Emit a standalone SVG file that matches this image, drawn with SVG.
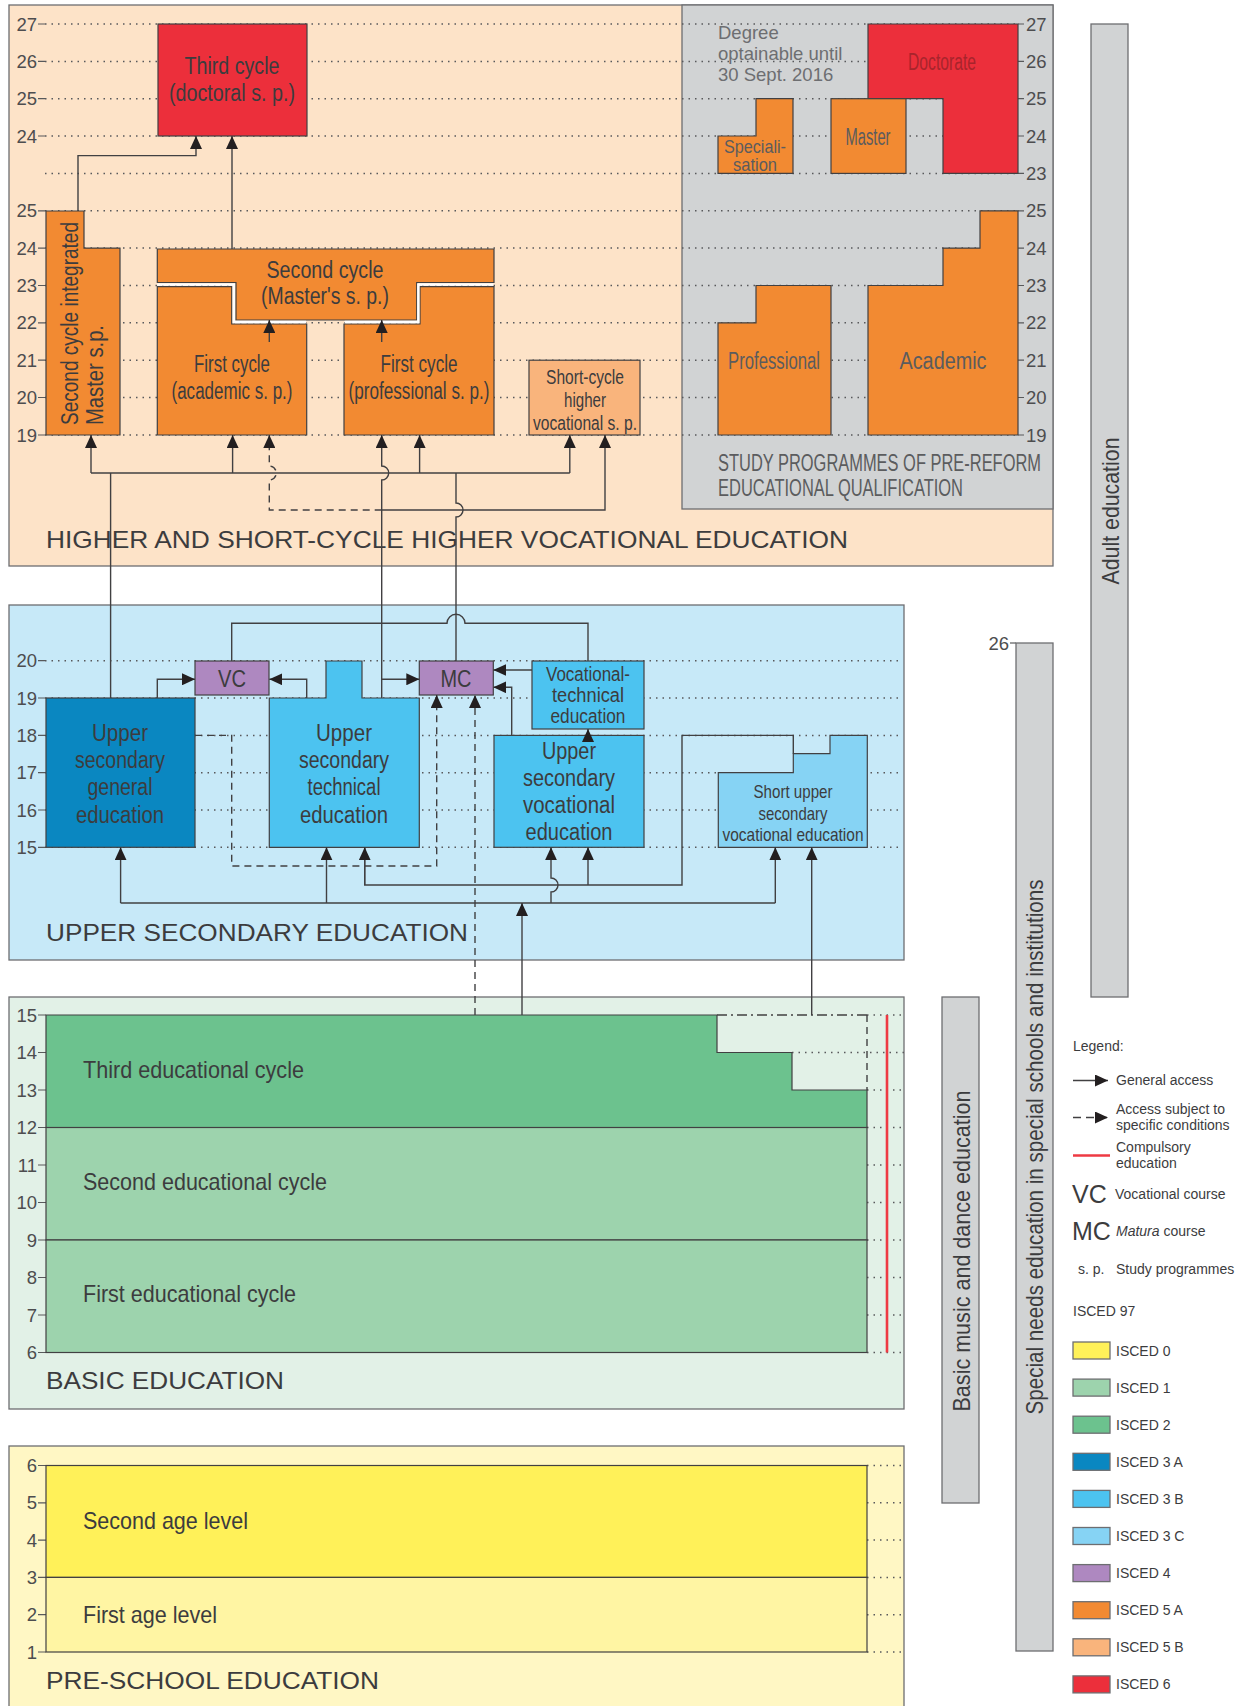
<svg xmlns="http://www.w3.org/2000/svg" width="1248" height="1706" viewBox="0 0 1248 1706">
<style>
.pl{stroke:#6d6e71;stroke-width:1.3}
.bx{stroke:#414042;stroke-width:1.2}
.c{fill:none;stroke:#414042;stroke-width:1.4}
.d{stroke-dasharray:7 5}
.dot{fill:none;stroke:#58595b;stroke-width:1.5;stroke-dasharray:1.5 5}
.t{font-family:"Liberation Sans Narrow","Liberation Sans",Arial,sans-serif;fill:#3c3c3e;font-size:23px}
.tm{text-anchor:middle}
.s19{font-size:20px}
.s18{font-size:19px}
.s24{font-size:24px}
.g{fill:#5b5c5e}
.n{font-family:"Liberation Sans",Arial,sans-serif;font-size:18.5px;fill:#4d4d4f}
.ne{text-anchor:end}
.ti{font-family:"Liberation Sans",Arial,sans-serif;font-size:24px;fill:#3c3c3e}
.lg{font-family:"Liberation Sans",Arial,sans-serif;font-size:14px;fill:#3c3c3e}
.big{font-size:25px}
.tk{stroke:#58595b;stroke-width:1.2}
</style>
<defs>
<marker id="ah" markerUnits="userSpaceOnUse" markerWidth="14" markerHeight="12" viewBox="0 0 14 12" refX="13" refY="6" orient="auto"><path d="M0,0 L13,6 L0,12 z" fill="#231f20"/></marker>
</defs>
<rect width="1248" height="1706" fill="#ffffff"/>

<!-- Panels -->
<g id="panel-higher">
<rect x="9" y="5" width="1044" height="561" fill="#fde3c8" class="pl"/>
<rect x="682" y="5" width="371" height="504" fill="#d1d3d4" class="pl"/>
</g>
<g id="panel-upper"><rect x="9" y="605" width="895" height="355" fill="#c7e9f8" class="pl"/></g>
<g id="panel-basic"><rect x="9" y="997" width="895" height="412" fill="#e2f1e7" class="pl"/></g>
<g id="panel-preschool"><rect x="9" y="1446" width="895" height="270" fill="#fff7c4" class="pl"/></g>

<!-- dotted grid -->
<g id="grid" class="dot">
<path d="M45,24H1017M45,61.4H1017M45,98.7H1017M45,136H1017M45,173.4H1017M45,210.8H1017M45,248.1H1017M45,285.5H1017M45,322.8H1017M45,360.2H1017M45,397.5H1017M45,435H1017"/>
<path d="M45,660.7H901M45,698H901M45,735.4H901M45,772.7H901M45,810H901M45,847.3H901"/>
<path d="M867,1015H904M792,1052.5H904M867,1090H904M867,1127.5H904M867,1165H904M867,1202.5H904M867,1240H904M867,1277.5H904M867,1315H904M867,1352.5H904"/>
<path d="M867,1465.5H904M867,1502.8H904M867,1540.1H904M867,1577.4H904M867,1614.7H904M867,1652H904"/>
</g>

<!-- axis numbers -->
<g id="axes">
<g class="tk">
<path d="M38,24H45M38,61.4H45M38,98.7H45M38,136H45M38,210.8H45M38,248.1H45M38,285.5H45M38,322.8H45M38,360.2H45M38,397.5H45M38,435H45"/>
<path d="M1018,24H1024M1018,61.4H1024M1018,98.7H1024M1018,136H1024M1018,173.4H1024M1018,210.8H1024M1018,248.1H1024M1018,285.5H1024M1018,322.8H1024M1018,360.2H1024M1018,397.5H1024M1018,435H1024"/>
<path d="M38,660.7H45M38,698H45M38,735.4H45M38,772.7H45M38,810H45M38,847.3H45"/>
<path d="M38,1015H46M38,1052.5H46M38,1090H46M38,1127.5H46M38,1165H46M38,1202.5H46M38,1240H46M38,1277.5H46M38,1315H46M38,1352.5H46"/>
<path d="M38,1465.5H46M38,1502.8H46M38,1540.1H46M38,1577.4H46M38,1614.7H46M38,1652H46"/>
<path d="M1010,643H1016"/>
</g>
<g class="n ne">
<text x="37" y="30.5">27</text><text x="37" y="67.9">26</text><text x="37" y="105.2">25</text><text x="37" y="142.5">24</text>
<text x="37" y="217.3">25</text><text x="37" y="254.6">24</text><text x="37" y="292">23</text><text x="37" y="329.3">22</text><text x="37" y="366.7">21</text><text x="37" y="404">20</text><text x="37" y="441.5">19</text>
<text x="37" y="667.2">20</text><text x="37" y="704.5">19</text><text x="37" y="741.9">18</text><text x="37" y="779.2">17</text><text x="37" y="816.5">16</text><text x="37" y="853.8">15</text>
<text x="37" y="1021.5">15</text><text x="37" y="1059">14</text><text x="37" y="1096.5">13</text><text x="37" y="1134">12</text><text x="37" y="1171.5">11</text><text x="37" y="1209">10</text><text x="37" y="1246.5">9</text><text x="37" y="1284">8</text><text x="37" y="1321.5">7</text><text x="37" y="1359">6</text>
<text x="37" y="1472">6</text><text x="37" y="1509.3">5</text><text x="37" y="1546.6">4</text><text x="37" y="1583.9">3</text><text x="37" y="1621.2">2</text><text x="37" y="1658.5">1</text>
<text x="1009" y="649.5">26</text>
</g>
<g class="n">
<text x="1026" y="30.5">27</text><text x="1026" y="67.9">26</text><text x="1026" y="105.2">25</text><text x="1026" y="142.5">24</text><text x="1026" y="179.9">23</text>
<text x="1026" y="217.3">25</text><text x="1026" y="254.6">24</text><text x="1026" y="292">23</text><text x="1026" y="329.3">22</text><text x="1026" y="366.7">21</text><text x="1026" y="404">20</text><text x="1026" y="441.5">19</text>
</g>
</g>

<!-- Higher education nodes -->
<g id="third-cycle"><rect x="158" y="24" width="149" height="112" fill="#ec2f3b" class="bx"/>
<text class="t tm" x="232" y="74" textLength="95" lengthAdjust="spacingAndGlyphs">Third cycle</text>
<text class="t tm" x="232" y="101" textLength="126" lengthAdjust="spacingAndGlyphs">(doctoral s. p.)</text></g>
<g id="integrated-master"><polygon points="46,211 84,211 84,248.1 120,248.1 120,435 46,435" fill="#f28a32" class="bx"/>
<text class="t" transform="translate(78,425) rotate(-90)" textLength="203" lengthAdjust="spacingAndGlyphs">Second cycle integrated</text>
<text class="t" transform="translate(103,425) rotate(-90)" textLength="100" lengthAdjust="spacingAndGlyphs">Master s.p.</text></g>
<g id="first-academic"><polygon points="157.3,286.7 231.7,286.7 231.7,324 306.7,324 306.7,435 157.3,435" fill="#f28a32" class="bx"/>
<text class="t tm" x="232" y="372" textLength="76" lengthAdjust="spacingAndGlyphs">First cycle</text>
<text class="t tm" x="232" y="399" textLength="121" lengthAdjust="spacingAndGlyphs">(academic s. p.)</text></g>
<g id="first-professional"><polygon points="344,324 420,324 420,286.7 494,286.7 494,435 344,435" fill="#f28a32" class="bx"/>
<text class="t tm" x="419" y="372" textLength="77" lengthAdjust="spacingAndGlyphs">First cycle</text>
<text class="t tm" x="419" y="399" textLength="141" lengthAdjust="spacingAndGlyphs">(professional s. p.)</text></g>
<g id="second-cycle"><polygon points="157.3,249 494,249 494,282.5 416.7,282.5 416.7,320 236,320 236,282.5 157.3,282.5" fill="#f28a32" class="bx"/>
<path d="M157.3,284.6H233.85V322H306.1M344.6,322H418.35V284.6H493.4" fill="none" stroke="#ffffff" stroke-width="2.4"/>
<text class="t tm" x="325" y="278" textLength="117" lengthAdjust="spacingAndGlyphs">Second cycle</text>
<text class="t tm" x="325" y="304" textLength="128" lengthAdjust="spacingAndGlyphs">(Master's s. p.)</text></g>
<g id="short-cycle"><rect x="529" y="360.2" width="111" height="74.8" fill="#f9b47c" class="bx"/>
<text class="t tm s19" x="585" y="384" textLength="78" lengthAdjust="spacingAndGlyphs">Short-cycle</text>
<text class="t tm s19" x="585" y="407" textLength="42" lengthAdjust="spacingAndGlyphs">higher</text>
<text class="t tm s19" x="585" y="430" textLength="104" lengthAdjust="spacingAndGlyphs">vocational s. p.</text></g>

<!-- Pre-reform programmes -->
<g id="pre-reform-label">
<text x="718" y="38.5" font-family="Liberation Sans, Arial, sans-serif" font-size="18.5" fill="#6d6e71">Degree</text>
<text x="718" y="59.5" font-family="Liberation Sans, Arial, sans-serif" font-size="18.5" fill="#6d6e71">optainable until</text>
<text x="718" y="80.5" font-family="Liberation Sans, Arial, sans-serif" font-size="18.5" fill="#6d6e71">30 Sept. 2016</text>
<text class="t g" x="718" y="471" textLength="323" lengthAdjust="spacingAndGlyphs">STUDY PROGRAMMES OF PRE-REFORM</text>
<text class="t g" x="718" y="496" textLength="245" lengthAdjust="spacingAndGlyphs">EDUCATIONAL QUALIFICATION</text>
</g>
<g id="doctorate"><polygon points="868,24 1018,24 1018,173.4 943,173.4 943,98.7 868,98.7" fill="#ec2f3b" class="bx"/>
<text class="t tm" x="942" y="70" style="fill:#a8242c" textLength="68" lengthAdjust="spacingAndGlyphs">Doctorate</text></g>
<g id="specialisation"><polygon points="718,136 756,136 756,98.7 793,98.7 793,173.4 718,173.4" fill="#f28a32" class="bx"/>
<text class="t tm g s18" x="755" y="153" textLength="62" lengthAdjust="spacingAndGlyphs">Speciali-</text>
<text class="t tm g s18" x="755" y="171" textLength="44" lengthAdjust="spacingAndGlyphs">sation</text></g>
<g id="master"><rect x="831" y="98.7" width="75" height="74.7" fill="#f28a32" class="bx"/>
<text class="t tm g" x="868" y="145" textLength="45" lengthAdjust="spacingAndGlyphs">Master</text></g>
<g id="professional"><polygon points="718,322.8 756,322.8 756,285.5 831,285.5 831,435 718,435" fill="#f28a32" class="bx"/>
<text class="t tm g" x="774" y="369" textLength="92" lengthAdjust="spacingAndGlyphs">Professional</text></g>
<g id="academic"><polygon points="868,285.5 943,285.5 943,248.1 980,248.1 980,210.8 1018,210.8 1018,435 868,435" fill="#f28a32" class="bx"/>
<text class="t tm g" x="943" y="369" textLength="87" lengthAdjust="spacingAndGlyphs">Academic</text></g>

<!-- Upper secondary nodes -->
<g id="vc"><rect x="195" y="661" width="74" height="34" fill="#ae88c0" class="bx"/>
<text class="t tm s24" x="232" y="686.5" textLength="28" lengthAdjust="spacingAndGlyphs">VC</text></g>
<g id="mc"><rect x="419.3" y="661" width="74" height="34" fill="#ae88c0" class="bx"/>
<text class="t tm s24" x="456" y="686.5" textLength="31" lengthAdjust="spacingAndGlyphs">MC</text></g>
<g id="upper-general"><rect x="46" y="698" width="149" height="149.3" fill="#0a87c1" class="bx"/>
<text class="t tm" x="120" y="741" textLength="56" lengthAdjust="spacingAndGlyphs">Upper</text>
<text class="t tm" x="120" y="768" textLength="90" lengthAdjust="spacingAndGlyphs">secondary</text>
<text class="t tm" x="120" y="795" textLength="65" lengthAdjust="spacingAndGlyphs">general</text>
<text class="t tm" x="120" y="823" textLength="88" lengthAdjust="spacingAndGlyphs">education</text></g>
<g id="upper-technical"><polygon points="269.3,698 326,698 326,661 362,661 362,698 419.3,698 419.3,847.3 269.3,847.3" fill="#4cc3f0" class="bx"/>
<text class="t tm" x="344" y="741" textLength="56" lengthAdjust="spacingAndGlyphs">Upper</text>
<text class="t tm" x="344" y="768" textLength="90" lengthAdjust="spacingAndGlyphs">secondary</text>
<text class="t tm" x="344" y="795" textLength="73" lengthAdjust="spacingAndGlyphs">technical</text>
<text class="t tm" x="344" y="823" textLength="88" lengthAdjust="spacingAndGlyphs">education</text></g>
<g id="vocational-technical"><rect x="532" y="661" width="112" height="68" fill="#4cc3f0" class="bx"/>
<text class="t tm s19" x="588" y="681" textLength="84" lengthAdjust="spacingAndGlyphs">Vocational-</text>
<text class="t tm s19" x="588" y="702" textLength="72" lengthAdjust="spacingAndGlyphs">technical</text>
<text class="t tm s19" x="588" y="723" textLength="75" lengthAdjust="spacingAndGlyphs">education</text></g>
<g id="upper-vocational"><rect x="494" y="735.4" width="150" height="111.9" fill="#4cc3f0" class="bx"/>
<text class="t tm" x="569" y="759" textLength="54" lengthAdjust="spacingAndGlyphs">Upper</text>
<text class="t tm" x="569" y="786" textLength="92" lengthAdjust="spacingAndGlyphs">secondary</text>
<text class="t tm" x="569" y="813" textLength="92" lengthAdjust="spacingAndGlyphs">vocational</text>
<text class="t tm" x="569" y="840" textLength="87" lengthAdjust="spacingAndGlyphs">education</text></g>
<g id="short-upper"><polygon points="718.3,772.7 793.3,772.7 793.3,753.7 830,753.7 830,735.4 867.3,735.4 867.3,847.3 718.3,847.3" fill="#86d3f4" class="bx"/>
<text class="t tm s18" x="793" y="798" textLength="79" lengthAdjust="spacingAndGlyphs">Short upper</text>
<text class="t tm s18" x="793" y="820" textLength="69" lengthAdjust="spacingAndGlyphs">secondary</text>
<text class="t tm s18" x="793" y="840.5" textLength="141" lengthAdjust="spacingAndGlyphs">vocational education</text></g>

<!-- Basic education -->
<g id="basic-third"><polygon points="46,1015 717,1015 717,1052.5 792,1052.5 792,1090 867,1090 867,1127.5 46,1127.5" fill="#6cc28e" class="bx"/>
<text class="t s24" x="83" y="1078" textLength="221" lengthAdjust="spacingAndGlyphs">Third educational cycle</text></g>
<g id="basic-second"><rect x="46" y="1127.5" width="821" height="112.5" fill="#9dd3ad" class="bx"/>
<text class="t s24" x="83" y="1190" textLength="244" lengthAdjust="spacingAndGlyphs">Second educational cycle</text></g>
<g id="basic-first"><rect x="46" y="1240" width="821" height="112.5" fill="#9dd3ad" class="bx"/>
<text class="t s24" x="83" y="1302" textLength="213" lengthAdjust="spacingAndGlyphs">First educational cycle</text></g>

<!-- Pre-school -->
<g id="pre-second"><rect x="46" y="1465.5" width="821" height="111.9" fill="#fff159" class="bx"/>
<text class="t s24" x="83" y="1529" textLength="165" lengthAdjust="spacingAndGlyphs">Second age level</text></g>
<g id="pre-first"><rect x="46" y="1577.4" width="821" height="74.6" fill="#fff5a3" class="bx"/>
<text class="t s24" x="83" y="1622.5" textLength="134" lengthAdjust="spacingAndGlyphs">First age level</text></g>

<!-- Panel titles -->
<g id="titles">
<text class="ti" x="46" y="548" textLength="802" lengthAdjust="spacingAndGlyphs">HIGHER AND SHORT-CYCLE HIGHER VOCATIONAL EDUCATION</text>
<text class="ti" x="46" y="940.5" textLength="422" lengthAdjust="spacingAndGlyphs">UPPER SECONDARY EDUCATION</text>
<text class="ti" x="46" y="1389" textLength="238" lengthAdjust="spacingAndGlyphs">BASIC EDUCATION</text>
<text class="ti" x="46" y="1688.5" textLength="333" lengthAdjust="spacingAndGlyphs">PRE-SCHOOL EDUCATION</text>
</g>

<!-- Side bars -->
<g id="adult-education"><rect x="1091" y="24" width="37" height="973" fill="#d1d3d4" class="pl"/>
<text class="t tm s24" transform="translate(1119,511) rotate(-90)" textLength="147" lengthAdjust="spacingAndGlyphs">Adult education</text></g>
<g id="special-needs"><rect x="1016" y="643" width="37" height="1008" fill="#d1d3d4" class="pl"/>
<text class="t tm s24" transform="translate(1043,1147) rotate(-90)" textLength="535" lengthAdjust="spacingAndGlyphs">Special needs education in special schools and institutions</text></g>
<g id="music-dance"><rect x="942" y="997" width="37" height="506" fill="#d1d3d4" class="pl"/>
<text class="t tm s24" transform="translate(970,1251) rotate(-90)" textLength="321" lengthAdjust="spacingAndGlyphs">Basic music and dance education</text></g>

<!-- Connectors -->
<g id="connectors" class="c">
<path d="M78,211V155.6H196V136" marker-end="url(#ah)"/>
<path d="M232,249V136" marker-end="url(#ah)"/>
<path d="M269.3,342V320" marker-end="url(#ah)"/>
<path d="M381.7,342V320" marker-end="url(#ah)"/>
<path d="M91,473H569.8"/>
<path d="M91,473V435" marker-end="url(#ah)"/>
<path d="M232.6,473V435" marker-end="url(#ah)"/>
<path d="M419.6,473V435" marker-end="url(#ah)"/>
<path d="M569.8,473V435" marker-end="url(#ah)"/>
<path d="M110.6,473V698"/>
<path d="M456,473V503A7,7 0 0 1 456,517V661"/>
<path d="M381.7,698V480A7,7 0 0 0 381.7,466V435" marker-end="url(#ah)"/>
<path class="d" d="M381.7,510H269.3V480A7,7 0 0 0 269.3,466V435" marker-end="url(#ah)"/>
<path d="M381.7,510H605V435" marker-end="url(#ah)"/>
<path d="M157.3,698V679.3H195" marker-end="url(#ah)"/>
<path d="M306.7,698V679.3H269.3" marker-end="url(#ah)"/>
<path d="M381.7,679.3H419.3" marker-end="url(#ah)"/>
<path d="M231.7,661V623.3H447A9,9 0 0 1 465,623.3H588V661"/>
<path d="M532,670H493.3" marker-end="url(#ah)"/>
<path d="M511.7,735.4V687.3H493.3" marker-end="url(#ah)"/>
<path d="M588,742V729" marker-end="url(#ah)"/>
<path class="d" d="M195,735.4H231.7V866H436.7V695" marker-end="url(#ah)"/>
<path class="d" d="M475,1015V695" marker-end="url(#ah)"/>
<path d="M120.6,903H775.3"/>
<path d="M120.6,903V847.3" marker-end="url(#ah)"/>
<path d="M326.5,903V847.3" marker-end="url(#ah)"/>
<path d="M551,903V892A7,7 0 0 0 551,878V847.3" marker-end="url(#ah)"/>
<path d="M775.3,903V847.3" marker-end="url(#ah)"/>
<path d="M522,1015V903" marker-end="url(#ah)"/>
<path d="M364.7,847.3V885H682V735.4H793.3V753.7"/>
<path d="M364.7,885V847.3" marker-end="url(#ah)"/>
<path d="M588,885V847.3" marker-end="url(#ah)"/>
<path d="M811.7,1015V847.3" marker-end="url(#ah)"/>
<path d="M717,1015H867" stroke-dasharray="10 4 2 4"/>
<path class="d" d="M867,1015V1090"/>
<path d="M887,1015V1352.5" stroke="#ee3a43" stroke-width="2.6"/>
</g>

<!-- Legend -->
<g id="legend">
<text class="lg" x="1073" y="1051">Legend:</text>
<path d="M1073,1080.5H1108" class="c" marker-end="url(#ah)"/>
<text class="lg" x="1116" y="1085">General access</text>
<path d="M1073,1117.5H1108" class="c" stroke-dasharray="8 5" marker-end="url(#ah)"/>
<text class="lg" x="1116" y="1114">Access subject to</text>
<text class="lg" x="1116" y="1130">specific conditions</text>
<path d="M1073,1155.5H1110" stroke="#ee3a43" stroke-width="2.6"/>
<text class="lg" x="1116" y="1152">Compulsory</text>
<text class="lg" x="1116" y="1168">education</text>
<text class="lg big" x="1072" y="1203">VC</text>
<text class="lg" x="1115" y="1199">Vocational course</text>
<text class="lg big" x="1072" y="1240">MC</text>
<text class="lg" x="1116" y="1236"><tspan font-style="italic">Matura</tspan> course</text>
<text class="lg" x="1078" y="1274">s. p.</text>
<text class="lg" x="1116" y="1274">Study programmes</text>
<text class="lg" x="1073" y="1316">ISCED 97</text>
<g class="pl">
<rect x="1073" y="1342" width="37" height="17" fill="#fff159"/>
<rect x="1073" y="1379.1" width="37" height="17" fill="#9dd3ad"/>
<rect x="1073" y="1416.2" width="37" height="17" fill="#6cc28e"/>
<rect x="1073" y="1453.3" width="37" height="17" fill="#0a87c1"/>
<rect x="1073" y="1490.4" width="37" height="17" fill="#4cc3f0"/>
<rect x="1073" y="1527.5" width="37" height="17" fill="#86d3f4"/>
<rect x="1073" y="1564.6" width="37" height="17" fill="#ae88c0"/>
<rect x="1073" y="1601.7" width="37" height="17" fill="#f28a32"/>
<rect x="1073" y="1638.8" width="37" height="17" fill="#f9b47c"/>
<rect x="1073" y="1675.9" width="37" height="17" fill="#ec2f3b"/>
</g>
<text class="lg" x="1116" y="1355.5">ISCED 0</text>
<text class="lg" x="1116" y="1392.6">ISCED 1</text>
<text class="lg" x="1116" y="1429.7">ISCED 2</text>
<text class="lg" x="1116" y="1466.8">ISCED 3 A</text>
<text class="lg" x="1116" y="1503.9">ISCED 3 B</text>
<text class="lg" x="1116" y="1541">ISCED 3 C</text>
<text class="lg" x="1116" y="1578.1">ISCED 4</text>
<text class="lg" x="1116" y="1615.2">ISCED 5 A</text>
<text class="lg" x="1116" y="1652.3">ISCED 5 B</text>
<text class="lg" x="1116" y="1689.4">ISCED 6</text>
</g>
</svg>
